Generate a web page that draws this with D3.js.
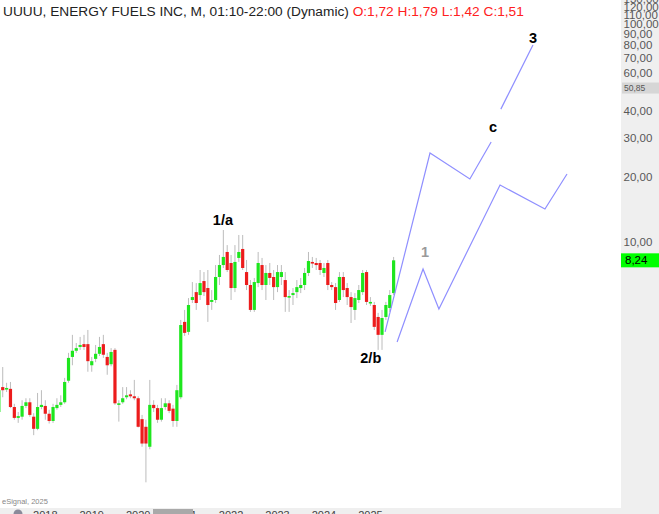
<!DOCTYPE html>
<html><head><meta charset="utf-8">
<script src="https://cdn.jsdelivr.net/npm/d3@7"></script>
<style>body{margin:0;background:#fff;overflow:hidden}svg{display:block;font-family:"Liberation Sans",Arial,sans-serif}</style>
</head><body><svg id="c" width="659" height="514"></svg>
<script>
// Monthly candles, first candle = Jan 2017 (month index 0)
const firstYear = 2017;
const opens = [1.66,2.16,2.12,2.12,1.75,1.56,1.58,1.77,1.84,1.58,
1.39,1.75,1.77,1.63,1.51,1.73,1.79,1.84,2.31,2.97,
3.17,3.30,3.40,3.40,2.72,2.91,3.07,3.40,2.97,2.75,
3.20,1.79,1.84,1.94,2.00,1.96,1.92,1.54,1.42,1.15,
1.79,1.73,1.53,1.75,1.82,1.72,1.51,1.94,4.30,3.87,
5.42,5.89,5.71,6.62,6.15,5.31,5.42,6.91,7.84,9.00,
8.01,6.15,8.45,9.29,7.28,6.35,4.88,6.48,7.84,6.35,
7.21,6.91,6.21,6.91,6.69,5.59,5.71,5.89,6.15,6.35,
7.21,8.10,8.01,8.01,7.21,8.01,6.35,6.21,5.42,6.91,
6.15,5.59,4.88,5.42,5.89,7.28,5.25,5.14,4.53,3.75,
4.53,4.98,5.83];
const highs = [2.21,2.67,2.26,2.28,1.81,1.66,1.88,1.92,1.92,1.64,
2.03,2.09,1.88,1.70,1.81,1.92,1.98,2.38,3.10,3.75,
3.44,3.67,3.75,3.95,2.97,3.37,3.67,3.75,3.10,3.26,
3.26,1.88,2.16,2.16,2.09,2.33,1.96,1.61,1.53,2.33,
1.88,1.79,1.92,1.92,1.88,1.79,2.21,4.39,4.88,5.53,
6.55,6.48,7.44,7.28,7.44,6.02,7.84,8.72,11.35,9.68,
8.72,9.68,10.77,10.77,8.27,6.69,6.84,9.00,8.45,7.84,
8.01,7.44,7.84,7.84,7.28,6.02,6.15,6.69,6.84,7.60,
9.00,8.54,8.45,8.27,8.01,8.27,6.55,6.48,7.28,7.28,
6.48,5.89,5.83,6.35,7.44,7.44,5.59,5.31,4.73,4.88,
5.31,6.02,8.54];
const lows = [1.61,1.94,2.05,1.73,1.53,1.48,1.53,1.73,1.58,1.30,
1.37,1.71,1.53,1.47,1.48,1.70,1.75,1.81,2.26,2.72,
3.10,3.20,3.20,2.54,2.54,2.81,3.00,2.94,2.46,2.69,
1.79,1.50,1.81,1.90,1.92,1.88,1.41,1.15,0.79,1.12,
1.66,1.48,1.50,1.70,1.64,1.42,1.42,1.90,3.71,3.75,
5.25,4.88,5.42,5.65,4.30,4.88,5.25,6.35,7.60,7.28,
5.42,5.89,8.10,7.44,6.02,4.78,4.78,6.21,6.02,5.42,
6.35,5.42,5.89,6.35,4.78,4.78,5.14,5.53,5.83,6.02,
6.98,7.60,7.44,7.06,6.91,6.02,6.02,4.88,5.31,5.59,
5.14,4.25,4.39,5.25,5.71,5.14,5.09,3.95,3.20,3.20,
4.39,4.78,5.71];
const closes = [2.09,2.09,2.14,1.75,1.56,1.59,1.77,1.84,1.61,1.39,
1.75,1.79,1.63,1.51,1.75,1.79,1.84,2.28,2.94,3.17,
3.26,3.37,3.30,2.84,2.84,3.07,3.30,3.04,2.72,3.13,
1.82,1.82,1.92,1.98,1.96,1.92,1.42,1.19,1.19,1.79,
1.73,1.53,1.73,1.82,1.68,1.51,2.09,4.16,3.83,5.14,
5.59,5.25,6.48,5.89,5.14,5.42,6.91,7.84,8.54,7.44,
6.15,8.10,9.00,7.60,6.35,4.88,6.55,8.01,6.35,7.21,
6.84,6.21,7.28,7.28,5.59,5.65,5.83,6.21,6.35,7.21,
8.18,8.01,7.84,7.44,7.60,6.35,6.21,5.25,6.91,6.02,
5.59,5.03,5.53,6.02,7.21,5.31,5.31,4.08,3.75,4.48,
5.14,5.71,8.24];

const yearLabels = ["2018","2019","2020","2021","2022","2023","2024","2025"];
const priceTicks = [10,20,30,40,60,70,80,90,100,110,120,130];
const priceTickLabels = ["10,00","20,00","30,00","40,00","60,00","70,00","80,00","90,00","100,00","110,00","120,00","130,00"];
const markerPrice = 50.85, markerLabel = "50,85";
const lastPrice = 8.24, lastLabel = "8,24";

// Elliott-wave projection paths: [month index, price]
const upperPath1 = [[99.8,3.87],[111.4,25.6],[121.7,19.45],[127.2,28.75]];
const upperPath2 = [[129.7,40.7],[138.0,80.1]];
const lowerPath = [[102.9,3.48],[109.6,7.52],[113.7,4.93],[129.5,18.26],[141.1,14.17],[146.8,20.5]];
const waveLabels = [
  {t:"1/a", m:57.9, p:11.97, c:"#000"},
  {t:"2/b", m:96.1, p:2.78, c:"#000"},
  {t:"1", m:110.1, p:8.54, c:"#9a9a9a"},
  {t:"c", m:127.7, p:31.96, c:"#000"},
  {t:"3", m:138.0, p:81.8, c:"#000"}
];
const titleMain = "UUUU, ENERGY FUELS INC, M, 01:10-22:00 (Dynamic)";
const titleOHLC = "O:1,72 H:1,79 L:1,42 C:1,51";

const svg = d3.select("#c");
const W = 659, H = 514, plotRight = 621, plotBottom = 508;

const x = d3.scaleLinear().domain([12, 96]).range([45.3, 370.4]);
const y = d3.scaleLog().domain([10, 100]).range([242, 24]);

// axis backgrounds
svg.append("rect").attr("x", plotRight).attr("y", 0).attr("width", W - plotRight).attr("height", H).attr("fill", "#efefef");
svg.append("rect").attr("x", 0).attr("y", plotBottom).attr("width", W).attr("height", H - plotBottom).attr("fill", "#efefef");

const plot = svg.append("g");
plot.append("clipPath").attr("id","clip").append("rect").attr("x",0).attr("y",0).attr("width",plotRight).attr("height",plotBottom);
const pg = plot.append("g").attr("clip-path","url(#clip)");

const candles = opens.map((o,i)=>({i, o, h:highs[i], l:lows[i], c:closes[i]}));
pg.selectAll("line.w").data(candles).join("line")
  .attr("x1", d=>x(d.i)).attr("x2", d=>x(d.i))
  .attr("y1", d=>y(d.h)).attr("y2", d=>y(d.l))
  .attr("stroke", "#bcbcbc").attr("stroke-width", 1);
pg.selectAll("rect.b").data(candles).join("rect")
  .attr("x", d=>x(d.i)-1.6).attr("width", 3.2)
  .attr("y", d=>Math.min(y(d.o), y(d.c)))
  .attr("height", d=>Math.max(1.6, Math.abs(y(d.o)-y(d.c))))
  .attr("fill", d=> d.c >= d.o ? "#1ee61e" : "#ec1c1c");

const line = d3.line().x(d=>x(d[0])).y(d=>y(d[1]));
[upperPath1, upperPath2, lowerPath].forEach(p=>{
  pg.append("path").attr("d", line(p)).attr("fill","none").attr("stroke","#8f8fff").attr("stroke-width",1.2);
});
pg.selectAll("text.wl").data(waveLabels).join("text")
  .attr("x", d=>x(d.m)).attr("y", d=>y(d.p)).attr("text-anchor","middle")
  .attr("font-size", 14.5).attr("font-weight","bold").attr("fill", d=>d.c).text(d=>d.t);

// right price axis
svg.append("g").selectAll("text").data(priceTicks).join("text")
  .attr("x", 623.5).attr("y", d=>y(d)).attr("dy","0.36em")
  .attr("font-size", 11.5).attr("fill", "#585858").text((d,i)=>priceTickLabels[i]);

// marker boxes
const my = y(markerPrice);
svg.append("rect").attr("x", 622).attr("y", my-5.5).attr("width", 37).attr("height", 11).attr("fill", "#d6d6d6");
svg.append("text").attr("x", 624).attr("y", my).attr("dy","0.36em").attr("font-size", 8.5).attr("fill","#555").text(markerLabel);
const ly = y(lastPrice);
svg.append("rect").attr("x", 621).attr("y", ly-7).attr("width", 38).attr("height", 14).attr("fill", "#00ff00");
svg.append("text").attr("x", 625).attr("y", ly).attr("dy","0.36em").attr("font-size", 11.5).attr("fill","#000").text(lastLabel);

// bottom time axis (mostly cut off)
svg.append("g").selectAll("text").data(yearLabels).join("text")
  .attr("x", (d)=>x((+d - firstYear)*12)).attr("y", 519).attr("text-anchor","middle")
  .attr("font-size", 11).attr("fill", "#444").text(d=>d);
svg.append("rect").attr("x", 153).attr("y", 509).attr("width", 40).attr("height", 6).attr("fill", "#a9a9a9");
svg.append("circle").attr("cx", 18).attr("cy", 514).attr("r", 4.5).attr("fill", "#8a8a9a");

svg.append("text").attr("x", 2).attr("y", 504).attr("font-size", 7.5).attr("fill", "#888").text("eSignal, 2025");

// title
const t = svg.append("text").attr("x", 3).attr("y", 15.5).attr("font-size", 13.7);
t.append("tspan").attr("fill", "#222").text(titleMain + " ");
t.append("tspan").attr("fill", "#ff2020").text(titleOHLC);
</script></body></html>
